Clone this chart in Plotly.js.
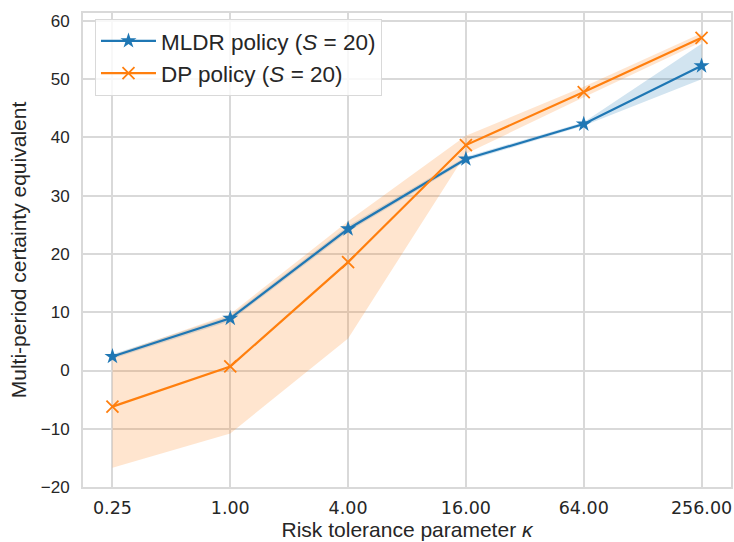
<!DOCTYPE html>
<html>
<head>
<meta charset="utf-8">
<script src="https://cdn.plot.ly/plotly-3.0.1.min.js"></script>
<style>html,body{margin:0;padding:0;background:#fff;}#chart{width:734px;height:542px;}</style>
</head>
<body>
<div id="chart"></div>
<script>
const kappa = [0.25, 1, 4, 16, 64, 256];
const tickLabels = ["0.25", "1.00", "4.00", "16.00", "64.00", "256.00"];
const mldr = [2.4, 8.95, 24.3, 36.3, 42.3, 52.3];
const mldrLower = [2.0, 8.5, 23.8, 35.9, 42.0, 50.0];
const mldrUpper = [2.8, 9.4, 24.8, 36.7, 42.6, 56.1];
const dp = [-6.2, 0.7, 18.6, 38.7, 47.8, 57.1];
const dpLower = [-16.7, -10.8, 5.5, 37.2, 46.9, 56.4];
const dpUpper = [2.6, 9.7, 25.6, 40.3, 48.7, 57.9];

const blue = "#1f77b4", orange = "#ff7f0e";

function band(lo, hi, color) {
  return [
    {x: kappa, y: lo, mode: "lines", line: {width: 0, color: color}, showlegend: false, hoverinfo: "skip"},
    {x: kappa, y: hi, mode: "lines", line: {width: 0, color: color}, fill: "tonexty", fillcolor: color, showlegend: false, hoverinfo: "skip"}
  ];
}

const traces = [
  ...band(mldrLower, mldrUpper, "rgba(31,119,180,0.2)"),
  ...band(dpLower, dpUpper, "rgba(255,127,14,0.2)"),
  {x: kappa, y: mldr, mode: "lines+markers", name: "MLDR policy (<i>S</i> = 20)",
   line: {color: blue, width: 2.2}, marker: {symbol: "star", size: 12, color: blue}},
  {x: kappa, y: dp, mode: "lines+markers", name: "DP policy (<i>S</i> = 20)",
   line: {color: orange, width: 2.2}, marker: {symbol: "x-thin-open", size: 12, color: orange, line: {color: orange, width: 1.8}}}
];

const layout = {
  width: 734, height: 542,
  margin: {l: 83, r: 3, t: 13, b: 55},
  paper_bgcolor: "#fff", plot_bgcolor: "#fff",
  font: {family: "Liberation Sans, Arial, sans-serif", color: "#262626", size: 17},
  xaxis: {
    type: "log",
    range: [Math.log10(0.25) - 0.25 * Math.log10(4), Math.log10(256) + 0.25 * Math.log10(4)],
    tickvals: kappa, ticktext: tickLabels,
    showgrid: true, gridcolor: "#d9d9d9", gridwidth: 2,
    showline: true, linecolor: "#d9d9d9", linewidth: 2, mirror: true,
    zeroline: false, ticks: "", ticklabelstandoff: 4,
    tickfont: {family: "DejaVu Sans, sans-serif", size: 17.5},
    title: {text: "Risk tolerance parameter <i>κ</i>", font: {size: 21}, standoff: 4}
  },
  yaxis: {
    range: [-20, 61.37],
    tickvals: [-20, -10, 0, 10, 20, 30, 40, 50, 60],
    ticktext: ["−20", "−10", "0", "10", "20", "30", "40", "50", "60"],
    showgrid: true, gridcolor: "#d9d9d9", gridwidth: 2,
    showline: true, linecolor: "#d9d9d9", linewidth: 2, mirror: true,
    zeroline: false, ticks: "", ticklabelstandoff: 8, tickfont: {size: 17},
    title: {text: "Multi-period certainty equivalent", font: {size: 21}, standoff: 8}
  },
  legend: {
    x: 0.0185, y: 0.988, xanchor: "left", yanchor: "top",
    bgcolor: "rgba(255,255,255,0.8)", bordercolor: "#d9d9d9", borderwidth: 1,
    font: {size: 22.5}, traceorder: "normal", itemwidth: 55, tracegroupgap: 0
  },
  showlegend: true
};

Plotly.newPlot("chart", traces, layout, {displayModeBar: false, staticPlot: true});
</script>
</body>
</html>
